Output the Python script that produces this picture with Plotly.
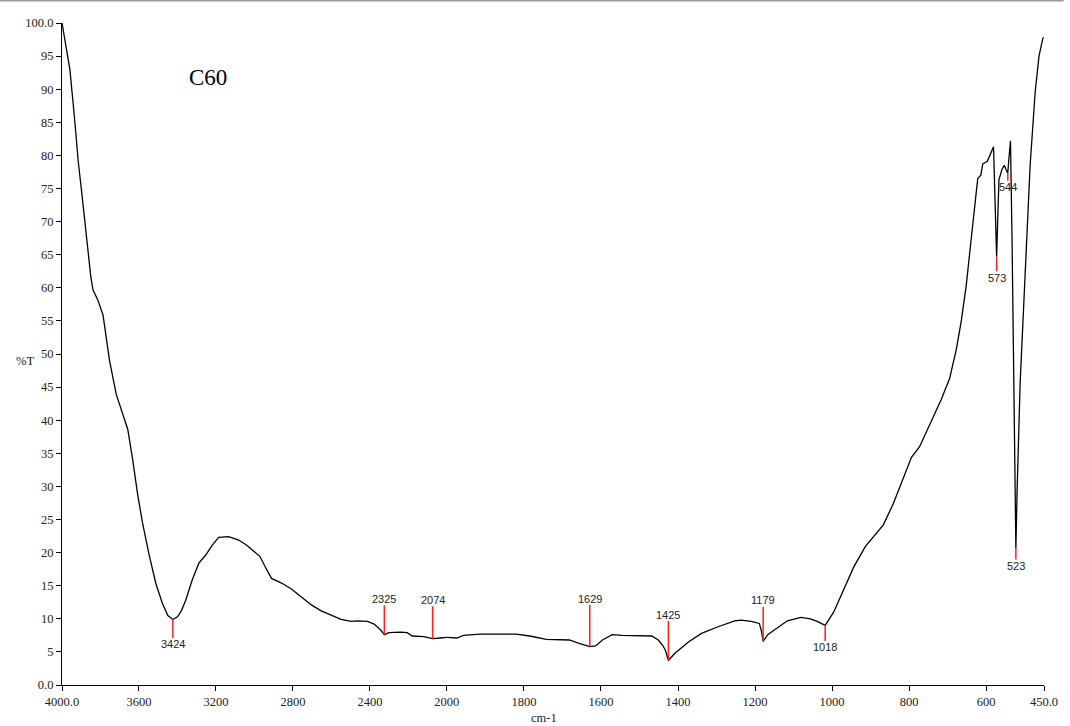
import numpy as np
import plotly.graph_objects as go

# FTIR spectrum of C60: wavenumber (cm-1) and transmittance (%T)
wavenumber = [
    4000, 3985, 3959, 3933, 3916, 3899, 3881, 3864, 3850, 3839, 3813, 3787,
    3770, 3753, 3718, 3684, 3658, 3632, 3607, 3581, 3546, 3512, 3478, 3450,
    3424, 3400, 3380, 3357, 3323, 3289, 3254, 3220, 3186, 3134, 3100, 3082,
    3040, 2996, 2971, 2945, 2911, 2859, 2808, 2756, 2704, 2653, 2601, 2550,
    2498, 2464, 2412, 2378, 2344, 2325, 2300, 2241, 2206, 2180, 2120, 2074,
    2034, 2000,
    1974, 1957, 1914, 1820, 1785, 1742, 1682, 1657, 1629, 1614, 1596, 1571,
    1545, 1468, 1451, 1440, 1433, 1425, 1415, 1408, 1373, 1339, 1296, 1253,
    1236, 1210, 1189, 1184, 1179, 1167, 1150, 1116, 1081, 1056, 1039, 1018,
    996, 970, 944, 914, 893, 867, 841, 816, 794, 773, 747, 717, 695, 678,
    665, 652, 640, 631, 622, 614, 609, 597, 588, 581, 573, 567, 559, 553,
    548, 544, 541, 537, 533, 529, 523, 520, 512, 499, 486, 473, 463, 453, 451,
]
transmittance = [
    100.0, 97.5, 93.0, 85.0, 79.2, 74.8, 69.7, 64.7, 61.6, 59.7, 58.1, 55.9,
    52.7, 49.0, 43.9, 40.8, 38.6, 33.9, 28.8, 24.4, 19.5, 15.3, 12.3, 10.5,
    9.9, 10.3, 11.2, 12.8, 15.9, 18.4, 19.6, 21.1, 22.3, 22.4, 22.1, 21.9,
    21.1, 20.1, 19.4, 17.9, 16.1, 15.4, 14.5, 13.3, 12.1, 11.2, 10.6, 9.9,
    9.6, 9.7, 9.6, 9.2, 8.3, 7.6, 7.9, 8.0, 7.9, 7.4, 7.3, 7.0,
    7.1, 7.2,
    7.1, 7.5, 7.7, 7.7, 7.4, 6.9, 6.8, 6.3, 5.8, 5.9, 6.8, 7.6,
    7.5, 7.4, 6.8, 6.0, 5.3, 3.7, 4.4, 4.8, 6.5, 7.8, 8.8, 9.7,
    9.8, 9.6, 9.3, 8.3, 6.6, 7.6, 8.3, 9.7, 10.2, 10.0, 9.6, 9.0,
    11.0, 14.4, 17.8, 20.9, 22.3, 24.2, 27.4, 31.2, 34.4, 36.0, 39.3, 43.1, 46.3, 50.6,
    54.9, 60.3, 66.8, 72.2, 76.5, 77.0, 78.7, 79.1, 80.3, 81.3, 64.7, 76.3, 77.9, 78.5,
    77.8, 77.3, 79.6, 82.2, 67.5, 45.5, 20.7, 29.0, 45.5, 62.0, 78.5, 89.5, 95.0, 97.7, 97.8,
]

# Picked peaks (cm-1)
peaks = [3424, 2325, 2074, 1629, 1425, 1179, 1018, 573, 544, 523]

# Axis ticks: coarse steps above 2000 cm-1, fine steps below
high_ticks = [4000, 3600, 3200, 2800, 2400]
high_ticktext = ["4000.0", "3600", "3200", "2800", "2400"]
low_ticks = [2000, 1800, 1600, 1400, 1200, 1000, 800, 600, 450]
low_ticktext = ["2000", "1800", "1600", "1400", "1200", "1000", "800", "600", "450.0"]
y_ticks = list(range(0, 101, 5))
y_ticktext = ["0.0"] + [str(v) for v in range(5, 100, 5)] + ["100.0"]

# Label offsets (pixels) of each peak label relative to its peak
label_offset = {3424: 25, 2325: -36, 2074: -39, 1629: -48, 1425: -46,
                1179: -41, 1018: 22, 573: 21, 544: 14, 523: 18}

wn = np.array(wavenumber, dtype=float)
tr = np.array(transmittance, dtype=float)

split = 2000.0
high = wn >= split
low = wn <= split

serif = "Liberation Serif"
sans = "Liberation Sans"
line_style = dict(color="black", width=1.3)
tick_font = dict(family=serif, size=12.5, color="#222222")

fig = go.Figure()
fig.add_trace(go.Scatter(x=wn[high], y=tr[high], mode="lines", line=line_style,
                         xaxis="x", yaxis="y", showlegend=False, hoverinfo="x+y"))
fig.add_trace(go.Scatter(x=wn[low], y=tr[low], mode="lines", line=line_style,
                         xaxis="x2", yaxis="y", showlegend=False, hoverinfo="x+y"))

# Peak markers: red stem from the curve to the wavenumber label
order = np.argsort(wn)
for p in peaks:
    yv = float(np.interp(p, wn[order], tr[order]))
    fig.add_annotation(
        x=p, y=yv, xref="x" if p > split else "x2", yref="y",
        text=str(p), showarrow=True, arrowhead=0, arrowwidth=1.5,
        arrowcolor="#ff2020", ax=0, ay=label_offset[p], standoff=0,
        startstandoff=0, borderpad=0,
        font=dict(family=sans, size=11, color="#222222"),
    )

axis_common = dict(
    showline=True, linecolor="black", linewidth=1.2, showgrid=False,
    zeroline=False, ticks="outside", ticklen=5, tickcolor="black",
    tickwidth=1.2, tickfont=tick_font, tickmode="array", anchor="y",
)
dsplit = (450 - 62) / 990.0

fig.update_layout(
    width=1070, height=726,
    margin=dict(l=62, r=18, t=23, b=41),
    paper_bgcolor="white", plot_bgcolor="white",
    font=dict(family=serif, color="#222222"),
    xaxis=dict(domain=[0, dsplit], range=[4000, 2000], tickvals=high_ticks,
               ticktext=high_ticktext, **axis_common),
    xaxis2=dict(domain=[dsplit, 1], range=[2000, 450], tickvals=low_ticks,
                ticktext=low_ticktext, **axis_common),
    yaxis=dict(range=[0, 100], tickvals=y_ticks, ticktext=y_ticktext,
               showline=True, linecolor="black", linewidth=1.2, showgrid=False,
               zeroline=False, ticks="outside", ticklen=5, tickcolor="black",
               tickwidth=1.2, tickfont=tick_font, tickmode="array"),
    hovermode="closest",
)

# Sample name, axis titles and top frame line
fig.add_annotation(x=0.1485, y=0.917, xref="paper", yref="paper", text="C60",
                   xanchor="center", yanchor="middle", showarrow=False,
                   font=dict(family=serif, size=23, color="black"))
fig.add_annotation(x=-0.0374, y=0.489, xref="paper", yref="paper", text="%T",
                   xanchor="center", yanchor="middle", showarrow=False,
                   font=dict(family=serif, size=12.5, color="#222222"))
fig.add_annotation(x=0.491, y=-0.0498, xref="paper", yref="paper", text="cm-1",
                   xanchor="center", yanchor="middle", showarrow=False,
                   font=dict(family=serif, size=12.5, color="#222222"))
fig.add_shape(type="line", xref="paper", yref="paper", x0=-0.07, x1=1.02,
              y0=1.034, y1=1.034, line=dict(color="#9a9a9a", width=2))

fig.write_html("out.html")
